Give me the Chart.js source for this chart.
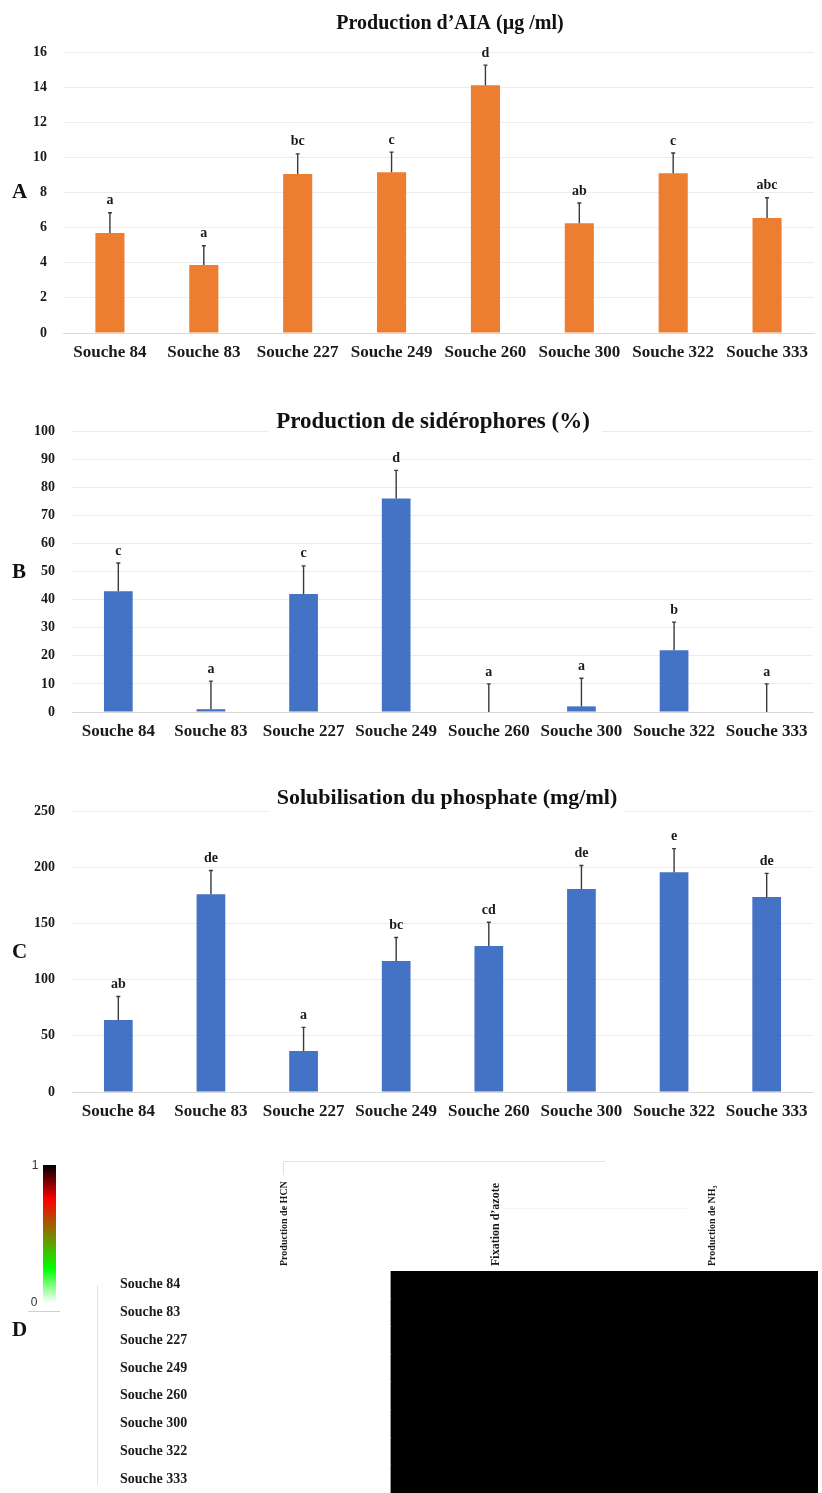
<!DOCTYPE html>
<html>
<head>
<meta charset="utf-8">
<script src="https://cdn.jsdelivr.net/npm/chart.js"></script>
<style>
  body { margin: 0; background: #fff; }
  .wrap { position: relative; width: 822px; height: 1493px; overflow: hidden; }
  canvas { position: absolute; left: 0; }
</style>
</head>
<body>
<div class="wrap">
  <canvas id="chartA" width="822" height="372" style="top:0"></canvas>
  <canvas id="chartB" width="822" height="372" style="top:380px"></canvas>
  <canvas id="chartC" width="822" height="372" style="top:760px"></canvas>
  <canvas id="chartD" width="822" height="353" style="top:1140px"></canvas>
</div>
<script>
// souches testées
var strains = ['Souche 84', 'Souche 83', 'Souche 227', 'Souche 249', 'Souche 260', 'Souche 300', 'Souche 322', 'Souche 333'];

// A - AIA (µg/ml)
var aiaValues  = [5.7, 3.87, 9.05, 9.15, 14.1, 6.25, 9.1, 6.55];
var aiaErrors  = [1.15, 1.1, 1.15, 1.15, 1.15, 1.15, 1.15, 1.15];
var aiaLetters = ['a', 'a', 'bc', 'c', 'd', 'ab', 'c', 'abc'];
var aiaMax = 16, aiaStep = 2;

// B - sidérophores (%)
var sidValues  = [43, 1, 42, 76, 0, 2, 22, 0];
var sidErrors  = [10, 10, 10, 10, 10, 10, 10, 10];
var sidLetters = ['c', 'a', 'c', 'd', 'a', 'a', 'b', 'a'];
var sidMax = 100, sidStep = 10;

// C - phosphate (mg/ml)
var phosValues  = [64, 176, 36.5, 116.5, 130, 180.5, 195.5, 173.5];
var phosErrors  = [21, 21, 21, 21, 21, 21, 21, 21];
var phosLetters = ['ab', 'de', 'a', 'bc', 'cd', 'de', 'e', 'de'];
var phosMax = 250, phosStep = 50;

// D - tests qualitatifs (0 / 1)
var traitNames  = ['Production de HCN', 'Fixation d\u2019azote', 'Production de NH\u2083'];
var hcnValues   = [0, 0, 0, 0, 0, 0, 0, 0];
var azoteValues = [1, 1, 1, 1, 1, 1, 1, 1];
var nh3Values   = [1, 1, 1, 1, 1, 1, 1, 1];

var serif = '"Liberation Serif", "Times New Roman", serif';
var orange = '#ED7D31';
var blue = '#4472C4';

// échelle de couleur blanc -> vert -> rouge -> noir
var heatStops = [
  [0, [255, 255, 255]],
  [0.25, [0, 255, 0]],
  [0.5, [128, 128, 0]],
  [0.75, [255, 0, 0]],
  [1, [0, 0, 0]]
];
function heatColor(v) {
  for (var i = 1; i < heatStops.length; i++) {
    if (v <= heatStops[i][0]) {
      var a = heatStops[i - 1], b = heatStops[i];
      var t = (v - a[0]) / (b[0] - a[0]);
      var c = a[1].map(function (x, k) { return Math.round(x + (b[1][k] - x) * t); });
      return 'rgb(' + c.join(',') + ')';
    }
  }
  return 'rgb(0,0,0)';
}

// barres d'erreur + lettres de significativité
var errorBars = {
  id: 'errorBars',
  afterDatasetsDraw: function (chart) {
    var ds = chart.data.datasets[0];
    var meta = chart.getDatasetMeta(0);
    var y = chart.scales.y;
    var ctx = chart.ctx;
    ctx.save();
    meta.data.forEach(function (bar, i) {
      var base = y.getPixelForValue(ds.data[i]);
      var top = y.getPixelForValue(ds.data[i] + ds.errors[i]);
      ctx.strokeStyle = '#3a3a3a';
      ctx.lineWidth = 1.4;
      ctx.beginPath();
      ctx.moveTo(bar.x, base);
      ctx.lineTo(bar.x, top);
      ctx.moveTo(bar.x - 2, top);
      ctx.lineTo(bar.x + 2, top);
      ctx.stroke();
      ctx.fillStyle = '#1a1a1a';
      ctx.font = 'bold 14px ' + serif;
      ctx.textAlign = 'center';
      ctx.textBaseline = 'middle';
      ctx.fillText(ds.letters[i], bar.x, top - 12);
    });
    ctx.restore();
  }
};

// titre et lettre du panneau
function panelText(p) {
  return {
    id: 'panelText',
    afterDraw: function (chart) {
      var ctx = chart.ctx;
      ctx.save();
      ctx.fillStyle = '#111';
      ctx.textBaseline = 'middle';
      ctx.textAlign = 'left';
      ctx.font = 'bold 21px ' + serif;
      ctx.fillText(p.letter, 12, p.letterY);
      if (p.box) {
        ctx.fillStyle = '#fff';
        ctx.fillRect(p.box[0], p.box[1], p.box[2] - p.box[0], p.box[3] - p.box[1]);
      }
      ctx.fillStyle = '#111';
      ctx.textAlign = 'center';
      ctx.font = 'bold ' + p.size + 'px ' + serif;
      ctx.fillText(p.title, p.x, p.y);
      ctx.restore();
    }
  };
}

function barChart(id, values, errors, letters, color, yMax, yStep, area, panel) {
  return new Chart(document.getElementById(id), {
    type: 'bar',
    data: {
      labels: strains,
      datasets: [{
        data: values,
        errors: errors,
        letters: letters,
        backgroundColor: color,
        barPercentage: 0.31,
        categoryPercentage: 1
      }]
    },
    options: {
      responsive: false,
      animation: false,
      layout: { padding: { top: area.top, left: 0, right: area.right, bottom: 0 } },
      plugins: { legend: { display: false }, tooltip: { enabled: false } },
      scales: {
        x: {
          grid: { display: false, drawTicks: false },
          border: { color: '#d9d9d9' },
          ticks: { color: '#1a1a1a', padding: 9, maxRotation: 0, autoSkip: false,
                   font: { family: serif, size: 17, weight: 'bold' } },
          afterFit: function (s) { s.height = area.xh; }
        },
        y: {
          min: 0,
          max: yMax,
          grid: { color: '#ececec', drawTicks: false },
          border: { display: false },
          ticks: { stepSize: yStep, padding: area.tp, color: '#1a1a1a',
                   font: { family: serif, size: 14, weight: 'bold' } },
          afterFit: function (s) { s.width = area.left; }
        }
      }
    },
    plugins: [errorBars, panelText(panel)]
  });
}

barChart('chartA', aiaValues, aiaErrors, aiaLetters, orange, aiaMax, aiaStep,
  { top: 52, right: 8, left: 63, xh: 39, tp: 16 },
  { letter: 'A', letterY: 193, title: 'Production d\u2019AIA (\u00b5g /ml)', x: 450, y: 24, size: 20 });

barChart('chartB', sidValues, sidErrors, sidLetters, blue, sidMax, sidStep,
  { top: 51, right: 9, left: 72, xh: 40, tp: 17 },
  { letter: 'B', letterY: 193, title: 'Production de sid\u00e9rophores (%)', x: 433, y: 42, size: 23,
    box: [269, 24, 602, 60] });

barChart('chartC', phosValues, phosErrors, phosLetters, blue, phosMax, phosStep,
  { top: 51, right: 9, left: 72, xh: 40, tp: 17 },
  { letter: 'C', letterY: 193, title: 'Solubilisation du phosphate (mg/ml)', x: 447, y: 38, size: 22,
    box: [269, 25, 623, 58] });

// D : carte de chaleur (une colonne empilée par test)
var heatMatrix = [hcnValues, azoteValues, nh3Values];

var heatLegend = {
  id: 'heatLegend',
  afterDraw: function (chart) {
    var ctx = chart.ctx;
    ctx.save();
    var g = ctx.createLinearGradient(0, 25, 0, 163);
    heatStops.forEach(function (s) { g.addColorStop(1 - s[0], heatColor(s[0])); });
    ctx.fillStyle = g;
    ctx.fillRect(43, 25, 13, 138);
    ctx.strokeStyle = '#d0d0d0';
    ctx.lineWidth = 1;
    ctx.beginPath();
    ctx.moveTo(28, 171.5); ctx.lineTo(60, 171.5);
    ctx.stroke();
    ctx.fillStyle = '#333';
    ctx.font = '12px "Liberation Sans", Arial, sans-serif';
    ctx.textAlign = 'center';
    ctx.textBaseline = 'middle';
    ctx.fillText('1', 35, 26);
    ctx.fillText('0', 34, 163);
    ctx.fillStyle = '#111';
    ctx.textAlign = 'left';
    ctx.font = 'bold 21px ' + serif;
    ctx.fillText('D', 12, 191);
    // traits du dendrogramme
    ctx.strokeStyle = '#e2e2e2';
    ctx.beginPath();
    ctx.moveTo(283.5, 35); ctx.lineTo(283.5, 21.5); ctx.lineTo(605, 21.5);
    ctx.moveTo(97.5, 145); ctx.lineTo(97.5, 345);
    ctx.stroke();
    ctx.strokeStyle = '#f3f3f3';
    ctx.beginPath();
    ctx.moveTo(503, 68.5); ctx.lineTo(687, 68.5);
    ctx.stroke();
    ctx.restore();
  }
};

new Chart(document.getElementById('chartD'), {
  type: 'bar',
  data: {
    labels: strains,
    datasets: traitNames.map(function (name, j) {
      return {
        label: name,
        data: strains.map(function () { return 1; }),
        backgroundColor: heatMatrix[j].map(heatColor),
        borderWidth: 0,
        inflateAmount: 0.6,
        barPercentage: 1,
        categoryPercentage: 1
      };
    })
  },
  options: {
    indexAxis: 'y',
    responsive: false,
    animation: false,
    layout: { padding: { left: 176, right: 4, top: 0, bottom: 0 } },
    plugins: { legend: { display: false }, tooltip: { enabled: false } },
    scales: {
      x: { type: 'linear', stacked: true, min: 0, max: 3, display: false },
      x2: {
        type: 'category',
        labels: traitNames,
        position: 'top',
        offset: true,
        grid: { display: false, drawTicks: false },
        border: { display: false },
        ticks: {
          minRotation: 90, maxRotation: 90, autoSkip: false, padding: 5, labelOffset: 13, color: '#1a1a1a',
          font: function (c) { return { family: serif, weight: 'bold', size: c.index === 1 ? 12 : 10 }; }
        },
        afterFit: function (s) { s.height = 131; }
      },
      y: {
        stacked: true,
        grid: { display: false, drawTicks: false },
        border: { display: false },
        // étiquettes à gauche de la zone, alignées à gauche, dessinées au-dessus des cases
        ticks: { mirror: true, padding: -56, z: 1, color: '#1a1a1a',
                 font: { family: serif, size: 14, weight: 'bold' } },
        afterFit: function (s) { s.width = 0; }
      }
    }
  },
  plugins: [heatLegend]
});
</script>
</body>
</html>
